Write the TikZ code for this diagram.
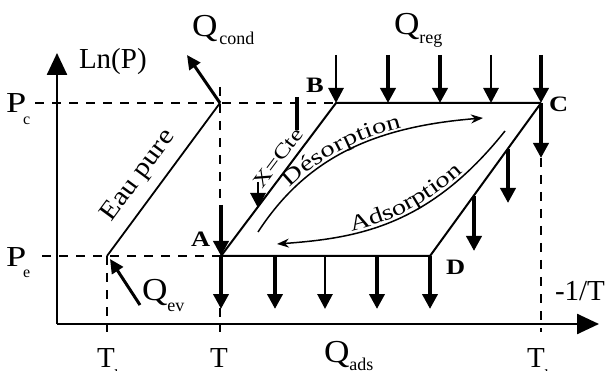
\documentclass[tikz,border=0pt]{standalone}
\usepackage{fontspec}
\setmainfont{Liberation Serif}
\newfontfamily\fP[FakeStretch=1.25]{Liberation Serif}
\newfontfamily\fQ[FakeStretch=1.1]{Liberation Serif}
\newfontfamily\fW[FakeStretch=1.3]{Liberation Serif}
\newfontfamily\fE[FakeStretch=1.15]{Liberation Serif}
\newfontfamily\fB[FakeStretch=1.2]{Liberation Serif}
\usetikzlibrary{arrows.meta,decorations.text}
\begin{document}
\begin{tikzpicture}[x=1pt,y=-1pt,
  axis/.style={line width=2.5pt,-{Triangle[length=22pt,width=20pt]}},
  dsh/.style={line width=2pt,dash pattern=on 9pt off 8pt},
  cyc/.style={line width=2pt},
  heat/.style={line width=3.8pt,-{Triangle[length=15pt,width=15pt]}},
  heatthin/.style={line width=2.8pt,-{Triangle[length=15pt,width=15pt]}},
  bar/.style={line width=3.8pt},
  qarrow/.style={line width=3pt,-{Triangle[length=14pt,width=13pt]}},
  curv/.style={line width=1.5pt,-{Stealth[length=12pt,width=9pt]}},
  lab/.style={inner sep=0pt,outer sep=0pt},
  big/.style={font=\fontsize{29}{29}\selectfont},
  bold/.style={font=\fontsize{22}{22}\selectfont\fB\bfseries},
]
\useasboundingbox (0,0) rectangle (610,371);

% key points
\coordinate (O) at (57,324);
\coordinate (Ytip) at (57,53);
\coordinate (Xtip) at (599,324);
\coordinate (Pc) at (35,103);
\coordinate (Pe) at (42,256);
\coordinate (K) at (220,103);
\coordinate (Ktop) at (220,87);
\coordinate (Kbot) at (220,332);
\coordinate (E) at (107,256);
\coordinate (Ebot) at (107,332);
\coordinate (A) at (221,256);
\coordinate (B) at (336,103);
\coordinate (C) at (541,103);
\coordinate (D) at (430,256);
\coordinate (Cdn) at (541,158);
\coordinate (Cbot) at (541,332);

% dashed guides
\draw[dsh] (Pc) -- (C);
\draw[dsh] (Pe) -- (D);
\draw[dsh] (Ktop) -- (Kbot);
\draw[dsh] (E) -- (Ebot);
\draw[dsh] (Cdn) -- (Cbot);

% axes
\draw[axis] (O) -- (Ytip);
\draw[axis] (O) -- (Xtip);

% pure water line and cycle
\draw[line width=1.8pt] (E) -- (K);
\draw[cyc] (A) -- (B) -- (C);
\draw[cyc] (A) -- (D) -- (C);

% regeneration heat arrows (top)
\coordinate (Bt) at (336,55);
\draw[heatthin] (Bt) -- (B);
\foreach \x/\s in {388/heat,440/heat,491/heatthin}{
  \coordinate (rt) at (\x,55);
  \coordinate (rb) at (\x,103);
  \draw[\s] (rt) -- (rb);
}
\coordinate (Ct) at (541,55);
\draw[heat] (Ct) -- (C);
\draw[heat] (C) -- (Cdn);

% arrows on D-C line
\coordinate (c1) at (508,149); \coordinate (c1b) at (508,203);
\coordinate (c2) at (474,196); \coordinate (c2b) at (474,251);
\draw[heat] (c1) -- (c1b);
\draw[heat] (c2) -- (c2b);

% arrows on A-B line
\coordinate (a1t) at (297,97); \coordinate (a1b) at (297,130);
\draw[bar] (a1t) -- (a1b);
\coordinate (a2t) at (258,182); \coordinate (a2b) at (258,208);
\draw[heatthin] (a2t) -- (a2b);

% arrow into A and adsorption heat arrows (bottom)
\coordinate (At) at (221,205);
\draw[heat] (At) -- (A);
\coordinate (Ab) at (221,309);
\draw[heat] (A) -- (Ab);
\foreach \x/\s in {275/heat,325/heatthin,377/heat}{
  \coordinate (qt) at (\x,256);
  \coordinate (qb) at (\x,309);
  \draw[\s] (qt) -- (qb);
}
\coordinate (Db) at (430,309);
\draw[heat] (D) -- (Db);

% condenser / evaporator heat arrows
\coordinate (Kq) at (187,55);
\draw[qarrow] (K) -- (Kq);
\coordinate (Evs) at (140,305);
\coordinate (Evt) at (110,259);
\draw[qarrow] (Evs) -- (Evt);

% desorption curve
\coordinate (d0) at (258,232);
\coordinate (d1) at (483,118);
\draw[curv] (d0) .. controls (305,160) and (370,127) .. (d1);
\path[decorate,decoration={text along path,raise=3pt,text align={left,left indent=54pt},
  text={|\fontsize{22}{24}\selectfont\fW|Désorption}}]
  (d0) .. controls (305,160) and (370,127) .. (d1);

% adsorption curve
\coordinate (s0) at (505,131);
\coordinate (s1) at (277,244);
\draw[curv] (s0) .. controls (430,225) and (360,238) .. (s1);
\path[decorate,decoration={text along path,raise=3pt,text align={left,left indent=76pt},
  text={|\fontsize{22}{24}\selectfont\fW|Adsorption}}]
  (s1) .. controls (360,238) and (430,225) .. (s0);

% labels
\node[lab,big,anchor=base west] (lnp) at (79,69) {Ln(P)};
\node[lab,anchor=base west] (pc) at (6,113)
  {{\fontsize{29}{29}\selectfont\fP P}\kern-3pt\raisebox{-12pt}{\fontsize{16}{16}\selectfont c}};
\node[lab,anchor=base west] (pe) at (6,267)
  {{\fontsize{29}{29}\selectfont\fP P}\kern-3pt\raisebox{-10pt}{\fontsize{16}{16}\selectfont e}};
\node[lab,anchor=base west] (qcond) at (192,37)
  {{\fontsize{32}{32}\selectfont\fQ Q}\kern2pt\raisebox{-8pt}{\fontsize{18}{18}\selectfont cond}};
\node[lab,anchor=base west] (qreg) at (394,35)
  {{\fontsize{32}{32}\selectfont\fQ Q}\raisebox{-9pt}{\fontsize{18}{18}\selectfont reg}};
\node[lab,anchor=base west] (qev) at (142,300)
  {{\fontsize{32}{32}\selectfont\fQ Q}\raisebox{-11pt}{\fontsize{18}{18}\selectfont ev}};
\node[lab,anchor=base west] (qads) at (324,362)
  {{\fontsize{32}{32}\selectfont\fQ Q}\raisebox{-8pt}{\fontsize{18}{18}\selectfont ads}};
\node[lab,anchor=base west] (tb) at (97,367)
  {{\fontsize{29}{29}\selectfont T}\raisebox{-14pt}{\fontsize{17}{17}\selectfont b}};
\node[lab,big,anchor=base west] (tm) at (210,367) {T};
\node[lab,anchor=base west] (th) at (527,367)
  {{\fontsize{29}{29}\selectfont T}\raisebox{-14pt}{\fontsize{17}{17}\selectfont h}};
\node[lab,big,anchor=base west] (inv) at (555,300) {-1/T};
\node[lab,bold,anchor=base west] (la) at (191,247) {A};
\node[lab,bold,anchor=base west] (lb) at (306,93) {B};
\node[lab,bold,anchor=base west] (lc) at (549,112) {C};
\node[lab,bold,anchor=base west] (ld) at (446,275) {D};
\node[lab,rotate=53.6,font=\fontsize{26}{26}\selectfont\fE] (eau) at (139,176) {Eau pure};
\node[lab,rotate=53,font=\fontsize{20}{20}\selectfont\fW] (xcte) at (278,158) {X=Cte};
\end{tikzpicture}
\end{document}
